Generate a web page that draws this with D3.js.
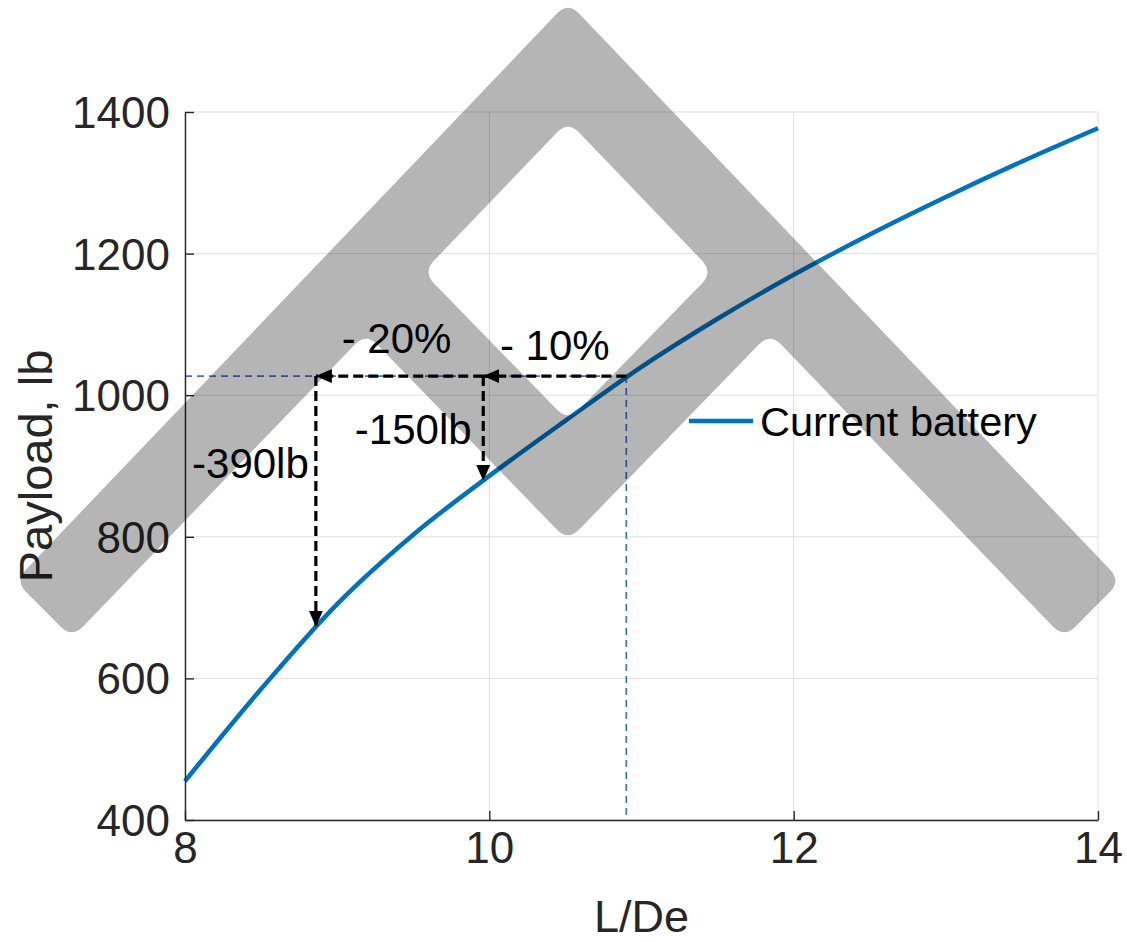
<!DOCTYPE html>
<html>
<head>
<meta charset="utf-8">
<script src="https://cdn.jsdelivr.net/npm/d3@7"></script>
<style>
  html, body { margin: 0; padding: 0; background: #fff; }
  svg { display: block; font-family: "Liberation Sans", Arial, Helvetica, sans-serif; }
</style>
</head>
<body>
<svg id="chart" width="1127" height="942"></svg>
<script>
// ---------------- data ----------------
const xTicks = [8, 10, 12, 14];
const yTicks = [400, 600, 800, 1000, 1200, 1400];
const ldValues      = [8.0, 8.5, 9.0, 9.5, 10.0, 10.5, 11.0, 11.5, 12.0, 12.5, 13.0, 13.5, 14.0];
const payloadValues = [455, 585, 705, 803, 886, 964, 1040, 1108, 1170, 1227, 1280, 1330, 1377];
const seriesName = "Current battery";
const refLD = 10.9;
const refPayload = 1027;
// horizontal arrows along refPayload
const hArrowFrom = [10.9, 9.96];
const hArrowTo   = [9.96, 8.86];
// vertical arrows from refPayload down to the curve
const vArrowX  = [9.96, 8.86];
const vArrowTo = [879, 673];
const annoText = ["- 20%", "- 10%", "-150lb", "-390lb"];
const annoX    = [9.39, 10.43, 9.5, 8.43];
const annoY    = [1060, 1050, 931, 883];

// watermark logo outline (pixel space, decorative)
const logoOuter = [[568,2],[1121,581],[1064,638],[770,333],[568,541],[366,333],[72,638],[15,581]];
const logoHole  = [[568,121],[713,272],[568,421],[423,272]];

// ---------------- layout ----------------
const svg = d3.select("#chart");
const M = {left: 185, top: 112, right: 1098, bottom: 820};
const x = d3.scaleLinear().domain([8, 14]).range([M.left, M.right]);
const y = d3.scaleLinear().domain([400, 1400]).range([M.bottom, M.top]);
const axisColor = "#262626";

// grid
const grid = svg.append("g");
grid.selectAll(".gx").data(xTicks).join("line")
  .attr("x1", d => x(d)).attr("x2", d => x(d))
  .attr("y1", M.top).attr("y2", M.bottom)
  .attr("stroke", "#dfdfdf").attr("stroke-width", 1);
grid.selectAll(".gy").data(yTicks).join("line")
  .attr("y1", d => y(d)).attr("y2", d => y(d))
  .attr("x1", M.left).attr("x2", M.right)
  .attr("stroke", "#dfdfdf").attr("stroke-width", 1);

// blue reference dashed lines
svg.append("line")
  .attr("x1", x(8)).attr("x2", x(refLD))
  .attr("y1", y(refPayload)).attr("y2", y(refPayload))
  .attr("stroke", "#4472C4").attr("stroke-width", 1.7).attr("stroke-dasharray", "7,5");
svg.append("line")
  .attr("x1", x(refLD)).attr("x2", x(refLD))
  .attr("y1", y(refPayload)).attr("y2", y(400))
  .attr("stroke", "#4472C4").attr("stroke-width", 1.7).attr("stroke-dasharray", "7,5");

// curve
const pts = ldValues.map((v, i) => [v, payloadValues[i]]);
svg.append("path")
  .datum(pts)
  .attr("fill", "none")
  .attr("stroke", "#0072BD")
  .attr("stroke-width", 4.5)
  .attr("d", d3.line().x(d => x(d[0])).y(d => y(d[1])).curve(d3.curveMonotoneX));

// arrow marker
const defs = svg.append("defs");
defs.append("marker")
  .attr("id", "ah").attr("markerUnits", "userSpaceOnUse")
  .attr("viewBox", "0 0 16 14").attr("refX", 16).attr("refY", 7)
  .attr("markerWidth", 16).attr("markerHeight", 14).attr("orient", "auto")
  .append("path").attr("d", "M0,0 L16,7 L0,14 Z").attr("fill", "#000");

const arrows = svg.append("g");
hArrowFrom.forEach((f, i) => {
  arrows.append("line")
    .attr("x1", x(f)).attr("x2", x(hArrowTo[i]))
    .attr("y1", y(refPayload)).attr("y2", y(refPayload))
    .attr("stroke", "#000").attr("stroke-width", 3.2).attr("stroke-dasharray", "10,5")
    .attr("marker-end", "url(#ah)");
});
vArrowX.forEach((vx, i) => {
  arrows.append("line")
    .attr("x1", x(vx)).attr("x2", x(vx))
    .attr("y1", y(refPayload)).attr("y2", y(vArrowTo[i]))
    .attr("stroke", "#000").attr("stroke-width", 3.2).attr("stroke-dasharray", "10,5")
    .attr("marker-end", "url(#ah)");
});

// axes
const fmt = d3.format("d");
const xAxis = d3.axisBottom(x).tickValues(xTicks).tickFormat(fmt).tickSizeInner(-9).tickSizeOuter(0).tickPadding(12);
const yAxis = d3.axisLeft(y).tickValues(yTicks).tickFormat(fmt).tickSizeInner(-9).tickSizeOuter(0).tickPadding(15);
const gx = svg.append("g").attr("transform", `translate(0,${M.bottom})`).call(xAxis);
const gy = svg.append("g").attr("transform", `translate(${M.left},0)`).call(yAxis);
[gx, gy].forEach(g => {
  g.select(".domain").attr("stroke", axisColor).attr("stroke-width", 1.4);
  g.selectAll(".tick line").attr("stroke", axisColor).attr("stroke-width", 1.4);
  g.selectAll(".tick text").attr("fill", axisColor).attr("font-size", 44)
    .attr("font-family", "'Liberation Sans', Arial, sans-serif");
});
gx.selectAll(".tick text").attr("dy", "0.71em");
gy.selectAll(".tick text").attr("dy", "0.35em");

// axis labels
svg.append("text")
  .attr("x", (M.left + M.right) / 2).attr("y", 932)
  .attr("text-anchor", "middle").attr("font-size", 45).attr("fill", axisColor)
  .text("L/De");
svg.append("text")
  .attr("transform", `translate(52,${(M.top + M.bottom) / 2}) rotate(-90)`)
  .attr("text-anchor", "middle").attr("font-size", 47).attr("fill", axisColor)
  .text("Payload, lb");

// annotations
svg.append("g").selectAll("text").data(annoText).join("text")
  .attr("x", (d, i) => x(annoX[i])).attr("y", (d, i) => y(annoY[i]))
  .attr("text-anchor", "middle").attr("font-size", 42).attr("fill", "#000")
  .text(d => d);

// legend
const lg = svg.append("g");
lg.append("line").attr("x1", 689).attr("x2", 753).attr("y1", 421).attr("y2", 421)
  .attr("stroke", "#0072BD").attr("stroke-width", 4.5);
lg.append("text").attr("x", 760).attr("y", 436).attr("font-size", 41.5).attr("fill", "#000")
  .text(seriesName);

// watermark overlay
function roundedPath(p, r) {
  let d = "";
  const n = p.length;
  for (let i = 0; i < n; i++) {
    const a = p[(i - 1 + n) % n], b = p[i], c = p[(i + 1) % n];
    const l1 = Math.hypot(a[0] - b[0], a[1] - b[1]);
    const l2 = Math.hypot(c[0] - b[0], c[1] - b[1]);
    const s = [b[0] + (a[0] - b[0]) * r / l1, b[1] + (a[1] - b[1]) * r / l1];
    const e = [b[0] + (c[0] - b[0]) * r / l2, b[1] + (c[1] - b[1]) * r / l2];
    d += (i === 0 ? "M" : "L") + s[0] + "," + s[1] + "Q" + b[0] + "," + b[1] + " " + e[0] + "," + e[1];
  }
  return d + "Z";
}
svg.append("path")
  .attr("d", roundedPath(logoOuter, 16) + roundedPath(logoHole, 16))
  .attr("fill-rule", "evenodd")
  .attr("fill", "#000").attr("fill-opacity", 0.29);
</script>
</body>
</html>
